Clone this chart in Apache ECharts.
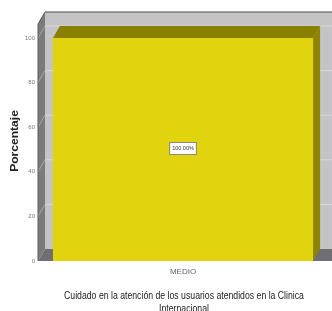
<!DOCTYPE html>
<html>
<head>
<meta charset="utf-8">
<script src="https://cdn.jsdelivr.net/npm/echarts@6/dist/echarts.min.js"></script>
<style>html,body{margin:0;padding:0;background:#fff}#c{width:332px;height:311px}</style>
</head>
<body>
<div id="c"></div>
<script>
const categories = ['MEDIO'];
const values = [100];
const valueLabels = ['100.00%'];
const yTicks = [0, 20, 40, 60, 80, 100];
const titleLines = ['Cuidado en la atención de los usuarios atendidos en la Clinica', 'Internacional'];
const yAxisName = 'Porcentaje';

const DX = 7, DY = -12, WALL_EXTRA = 26, BAR_RATIO = 0.897;
const chart = echarts.init(document.getElementById('c'), null, {renderer: 'canvas'});

function renderItem(params, api) {
  const cs = params.coordSys;
  const L = cs.x, R = cs.x + cs.width, T = cs.y, B = cs.y + cs.height;
  const c = api.value(0), v = api.value(1);
  const base = api.coord([c, 0]);
  const top = api.coord([c, v]);
  const bw = api.size([1, 0])[0] * BAR_RATIO;
  const x0 = top[0] - bw / 2, x1 = top[0] + bw / 2;
  const wallTop = T - WALL_EXTRA;
  const children = [];
  children.push({type: 'rect', shape: {x: L + DX, y: wallTop, width: R - L + 10, height: B + DY - wallTop},
    style: {fill: '#c4c4c4'}});
  children.push({type: 'polygon', shape: {points: [[L, B], [L, wallTop - DY], [L + DX, wallTop], [L + DX, B + DY]]},
    style: {fill: '#7b7b7b'}});
  yTicks.forEach(function (t) {
    if (t === 0) return;
    const y = api.coord([c, t])[1];
    children.push({type: 'line', shape: {x1: L + DX, y1: y + DY, x2: R + DX + 10, y2: y + DY},
      style: {stroke: '#d9d9d9', lineWidth: 1}});
    children.push({type: 'line', shape: {x1: L, y1: y, x2: L + DX, y2: y + DY},
      style: {stroke: '#a8a8a8', lineWidth: 1}});
  });
  children.push({type: 'line', shape: {x1: L + DX, y1: wallTop, x2: R + DX + 10, y2: wallTop},
    style: {stroke: '#4a4a4a', lineWidth: 1}});
  children.push({type: 'line', shape: {x1: L, y1: wallTop - DY, x2: L + DX, y2: wallTop},
    style: {stroke: '#5a5a5a', lineWidth: 1}});
  children.push({type: 'line', shape: {x1: L, y1: wallTop - DY, x2: L, y2: B},
    style: {stroke: '#5a5a5a', lineWidth: 1}});
  children.push({type: 'polygon', shape: {points: [[L, B], [L + DX, B + DY], [R + DX + 10, B + DY], [R + 10, B]]},
    style: {fill: '#6e6e74'}});
  children.push({type: 'polygon', shape: {points: [[x1, top[1]], [x1 + DX, top[1] + DY], [x1 + DX, base[1] + DY], [x1, base[1]]]},
    style: {fill: '#8e8400'}});
  children.push({type: 'polygon', shape: {points: [[x0, top[1]], [x0 + DX, top[1] + DY], [x1 + DX, top[1] + DY], [x1, top[1]]]},
    style: {fill: '#8a8000'}});
  children.push({type: 'rect', shape: {x: x0, y: top[1], width: bw, height: base[1] - top[1]},
    style: {fill: '#e1d40e'}});
  const mid = api.coord([c, v / 2]);
  children.push({type: 'text', x: mid[0], y: mid[1] - 1,
    style: {text: valueLabels[params.dataIndex], fontSize: 5.5, fontFamily: 'Liberation Sans, Arial, sans-serif',
      fill: '#333', align: 'center', verticalAlign: 'middle', backgroundColor: '#fff',
      borderColor: '#888', borderWidth: 1, padding: [3, 2, 2, 2]}});
  return {type: 'group', children: children};
}

chart.setOption({
  animation: false,
  backgroundColor: '#fff',
  grid: {left: 38, right: 4, top: 38, bottom: 50},
  graphic: [
    {type: 'text', x: 184, y: 296, scaleX: 0.87, scaleY: 1,
      style: {text: titleLines[0], fontSize: 10, fill: '#222', align: 'center', verticalAlign: 'middle',
        fontFamily: 'Liberation Sans, Arial, sans-serif'}},
    {type: 'text', x: 184, y: 309.5, scaleX: 0.87, scaleY: 1,
      style: {text: titleLines[1], fontSize: 10, fill: '#222', align: 'center', verticalAlign: 'middle',
        fontFamily: 'Liberation Sans, Arial, sans-serif'}},
    {type: 'text', x: 15, y: 141, rotation: Math.PI / 2, scaleX: 1.15, scaleY: 1,
      style: {text: yAxisName, fontSize: 10.5, fontWeight: 'bold', fill: '#222', align: 'center', verticalAlign: 'middle',
        fontFamily: 'Liberation Sans, Arial, sans-serif'}}
  ],
  xAxis: {type: 'category', data: categories, axisLine: {show: false}, axisTick: {show: false},
    axisLabel: {fontSize: 8, color: '#666', margin: 7, fontFamily: 'Liberation Sans, Arial, sans-serif'}},
  yAxis: {type: 'value', min: 0, max: 100, interval: 20,
    axisLine: {show: false}, axisTick: {show: false}, splitLine: {show: false},
    axisLabel: {fontSize: 6, color: '#777', margin: 3, fontFamily: 'Liberation Sans, Arial, sans-serif'}},
  series: [{type: 'custom', renderItem: renderItem, clip: false,
    encode: {x: 0, y: 1},
    data: values.map(function (v, i) { return [i, v]; })}]
});
</script>
</body>
</html>
